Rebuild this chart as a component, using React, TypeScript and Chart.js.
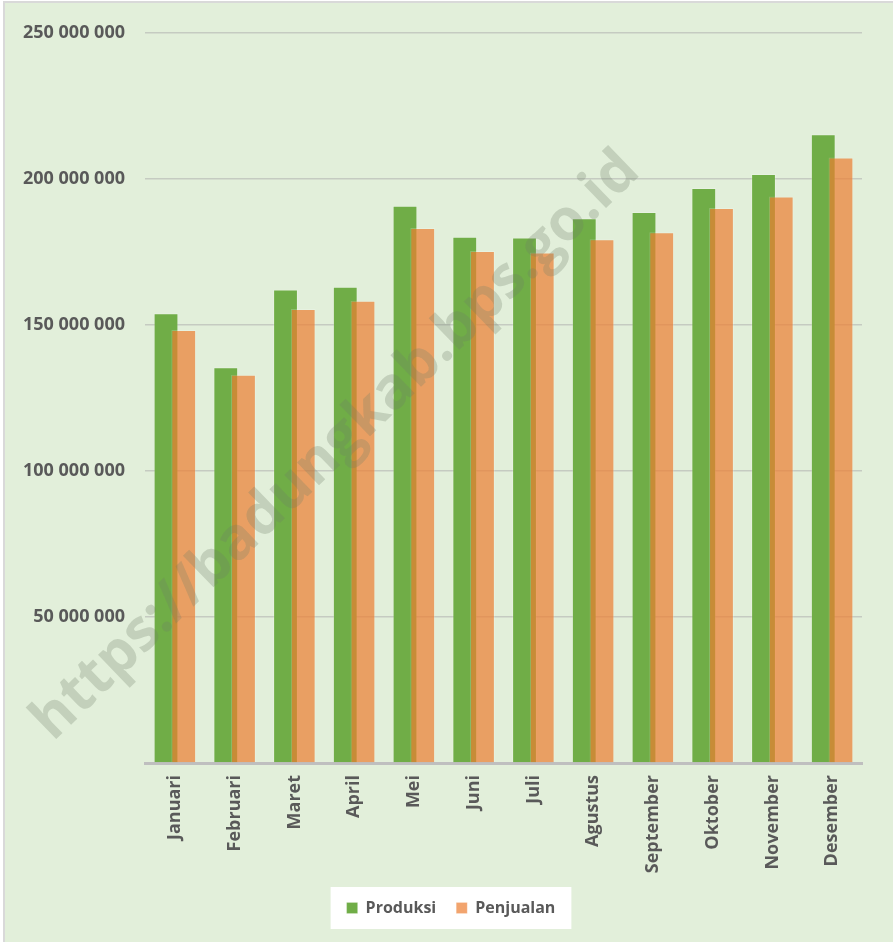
import { useEffect, useRef } from 'react';
import { Chart, registerables } from 'chart.js';

Chart.register(...registerables);

const months = ['Januari', 'Februari', 'Maret', 'April', 'Mei', 'Juni', 'Juli', 'Agustus', 'September', 'Oktober', 'November', 'Desember'];
const produksi = [154.0e6, 135.5e6, 162.2e6, 163.1e6, 190.8e6, 180.2e6, 180.0e6, 186.6e6, 188.7e6, 196.9e6, 201.7e6, 215.3e6];
const penjualan = [148.3e6, 133.0e6, 155.5e6, 158.3e6, 183.2e6, 175.3e6, 174.8e6, 179.4e6, 181.8e6, 190.1e6, 194.0e6, 207.4e6];
const yMax = 250e6;
const yStep = 50e6;
const watermarkText = 'https://badungkab.bps.go.id';

const FONT = '"Open Sans", "DejaVu Sans", sans-serif';
const TEXT = '#595959';

const fmt = (v: number) => (v === 0 ? '' : Math.round(v).toString().replace(/\B(?=(\d{3})+(?!\d))/g, ' '));

export default function App() {
  const ref = useRef<HTMLCanvasElement | null>(null);

  useEffect(() => {
    document.body.style.margin = '0';
    document.body.style.overflow = 'hidden';
    if (!ref.current) return;

    const drawOrder = {
      id: 'drawOrder',
      beforeDatasetsDraw(chart: any) {
        const ctx = chart.ctx;
        ctx.save();
        [0, 1].forEach((i) => {
          const meta = chart.getDatasetMeta(i);
          if (meta && !meta.hidden) meta.controller.draw();
        });
        ctx.restore();
        return false;
      },
    };

    const legendShift = {
      id: 'legendShift',
      afterLayout(chart: any) {
        const lg = chart.legend;
        if (lg) lg.left += 40;
      },
    };

    const legendBg = {
      id: 'legendBg',
      beforeDraw(chart: any) {
        const lg = chart.legend;
        if (!lg) return;
        const ctx = chart.ctx;
        ctx.save();
        ctx.font = 'bold 16px ' + FONT;
        const items = chart.data.datasets.map((d: any) => 11 + 8 + ctx.measureText(d.label).width);
        const total = items.reduce((a: number, b: number) => a + b, 0) + 20 * (items.length - 1);
        const cx = (lg.left + lg.right) / 2;
        const w = total + 32;
        const cy = lg.top + 20 + 8;
        ctx.fillStyle = '#FFFFFF';
        ctx.fillRect(cx - w / 2, cy - 21, w, 42);
        ctx.restore();
      },
    };

    const watermark = {
      id: 'watermark',
      afterDraw(chart: any) {
        const ctx = chart.ctx;
        ctx.save();
        ctx.translate(336, 446);
        ctx.rotate((-44 * Math.PI) / 180);
        ctx.font = 'bold 58px ' + FONT;
        ctx.fillStyle = 'rgba(110,125,105,0.27)';
        ctx.textAlign = 'center';
        ctx.textBaseline = 'middle';
        ctx.fillText(watermarkText, 0, 0);
        ctx.restore();
      },
    };

    const chart = new Chart(ref.current, {
      type: 'bar',
      data: {
        labels: months,
        datasets: [
          {
            label: 'Produksi',
            data: produksi,
            backgroundColor: '#70AD47',
            borderColor: 'rgba(255,255,255,0.2)',
            borderWidth: 1,
            categoryPercentage: 0.593,
            barPercentage: 1.4,
          },
          {
            label: 'Penjualan',
            data: penjualan,
            backgroundColor: 'rgba(237,125,49,0.7)',
            borderColor: 'rgba(255,255,255,0.2)',
            borderWidth: 1,
            categoryPercentage: 0.593,
            barPercentage: 1.4,
          },
        ],
      },
      options: {
        responsive: false,
        animation: false,
        devicePixelRatio: 1,
        layout: { padding: { left: 0, right: 31, top: 33, bottom: 16 } },
        plugins: {
          tooltip: { enabled: false },
          legend: {
            position: 'bottom',
            labels: {
              boxWidth: 11,
              boxHeight: 11,
              padding: 20,
              color: TEXT,
              font: { family: FONT, size: 16, weight: 'bold' },
            },
          },
        },
        scales: {
          x: {
            grid: { display: false, drawTicks: false },
            border: { display: true, color: '#BFBFBF', width: 3 },
            ticks: {
              minRotation: 90,
              maxRotation: 90,
              padding: 12,
              color: TEXT,
              font: { family: FONT, size: 18, weight: 'bold' },
            },
            afterFit: (s: any) => {
              s.height = 117;
            },
          },
          y: {
            min: 0,
            max: yMax,
            grid: { color: '#C5CBC1', lineWidth: 1.5, drawTicks: false },
            border: { display: false },
            ticks: {
              stepSize: yStep,
              padding: 20,
              color: TEXT,
              font: { family: FONT, size: 18, weight: 'bold' },
              callback: (v: any) => fmt(Number(v)),
            },
            afterFit: (s: any) => {
              s.width = 145;
            },
          },
        },
      },
      plugins: [drawOrder, legendShift, legendBg, watermark],
    } as any);

    return () => chart.destroy();
  }, []);

  return (
    <div style={{ position: 'relative', width: 893, height: 942, background: '#FFFFFF', overflow: 'hidden' }}>
      <div
        style={{
          position: 'absolute',
          left: 3,
          top: 1,
          width: 900,
          height: 950,
          background: '#E2EFDA',
          borderLeft: '2px solid #D9D9D9',
          borderTop: '2px solid #D9D9D9',
        }}
      />
      <canvas ref={ref} width={893} height={942} style={{ position: 'absolute', left: 0, top: 0 }} />
    </div>
  );
}
